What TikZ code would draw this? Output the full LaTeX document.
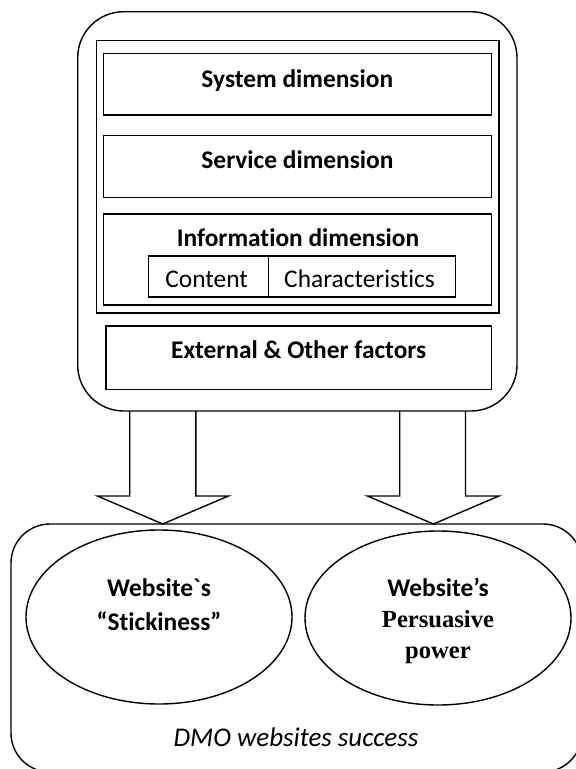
\documentclass[tikz,border=0pt]{standalone}
\usepackage{fontspec}
\setmainfont{Carlito}[Ligatures={TeXOff,NoCommon}]
\newfontfamily\timesfont{Liberation Serif}
\usetikzlibrary{shapes.geometric}
\begin{document}
\begin{tikzpicture}[x=1pt,y=-1pt,
  line width=1.4pt,
  box/.style={draw,rectangle,inner sep=0pt,outer sep=0pt},
  txt/.style={inner sep=0pt,anchor=base,font=\fontsize{25.4}{30}\selectfont},
  btxt/.style={txt,font=\fontsize{25.4}{30}\selectfont\bfseries},
  ttxt/.style={txt,font=\fontsize{24.6}{30}\selectfont\timesfont\bfseries},
  ell/.style={draw,ellipse,inner sep=0pt,minimum width=266pt,minimum height=174pt}
]
\useasboundingbox (0,0) rectangle (576,769);
% top container
\node[box,rounded corners=46pt,minimum width=439.3pt,minimum height=399.3pt] (top) at (297.35,211.35) {};
\node[box,minimum width=402.3pt,minimum height=272.3pt] (frame) at (297.85,176.85) {};
\node[box,minimum width=388.4pt,minimum height=61.7pt] (sys) at (297.5,84.15) {};
\node[box,minimum width=388.4pt,minimum height=61.6pt] (serv) at (297.5,166.5) {};
\node[box,minimum width=388.4pt,minimum height=91pt] (info) at (297.5,259.5) {};
\node[box,minimum width=120pt,minimum height=41pt] (cont) at (208.3,276.5) {};
\node[box,minimum width=187.4pt,minimum height=41pt] (char) at (362,276.5) {};
\node[box,minimum width=385.7pt,minimum height=63.3pt] (ext) at (298.85,357.65) {};
\node[btxt] (sysT) at (297.3,87.3) {System dimension};
\node[btxt] (servT) at (297.5,168) {Service dimension};
\node[btxt] (infoT) at (298,246.7) {Information dimension};
\node[txt] (contT) at (206.7,287.3) {Content};
\node[txt] (charT) at (359.5,287.3) {Characteristics};
\node[btxt] (extT) at (298.7,358.3) {External \& Other factors};
% bottom container
\node[box,rounded corners=39pt,minimum width=571pt,minimum height=248pt] (bot) at (296.5,648) {};
\node[ell] (e1) at (159,617) {};
\node[ell] (e2) at (438,618) {};
\node[btxt] (w1) at (159,596.7) {Website`s};
\node[btxt] (s1) at (159,630.7) {“Stickiness”};
\node[btxt] (w2) at (438,596.7) {Website’s};
\node[ttxt] (p2) at (438,627.7) {Persuasive};
\node[ttxt] (pw2) at (438,658) {power};
\node[txt,font=\fontsize{27}{30}\selectfont\itshape] (dmo) at (296,746.7) {DMO websites success};
% block arrows
\draw[line join=miter] (129.7,0 |- top.south) -- (129.7,496) -- (97.4,496) -- (162.7,0 |- bot.north)
  -- (228.5,496) -- (195.8,496) -- (195.8,0 |- top.south);
\draw[line join=miter] (399.7,0 |- top.south) -- (399.7,496) -- (367.4,496) -- (433.5,0 |- bot.north)
  -- (498.9,496) -- (465.5,496) -- (465.5,0 |- top.south);
\end{tikzpicture}
\end{document}
